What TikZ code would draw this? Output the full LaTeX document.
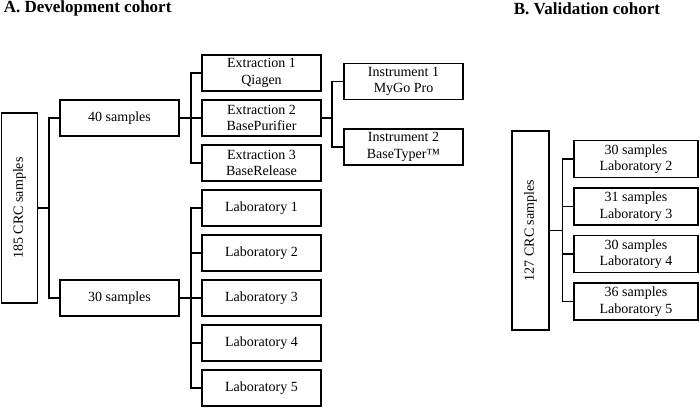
\documentclass[tikz,border=0pt]{standalone}
\usepackage{fontspec}
\setmainfont{Liberation Serif}
\usetikzlibrary{positioning}
\begin{document}
\begin{tikzpicture}[x=1pt, y=-1pt, line width=1.7pt,
    box/.style = {draw, align=center, minimum width=119pt, minimum height=36pt, inner sep=0pt, font=\fontsize{14}{16.5}\selectfont},
    side/.style = {box, rotate=90, minimum height=36pt},
    title/.style = {anchor=base west, inner sep=0pt, font=\fontsize{17}{19}\selectfont\bfseries}]
    \useasboundingbox (0,0) rectangle (700,407);
    \node[title] (ta) at (3,12.5) {A. Development cohort};
    \node[title] (tb) at (513,14.5) {B. Validation cohort};
    % development cohort
    \node[side, minimum width=190pt] (c185) at (19.5,208) {185 CRC samples};
    \node[box] (s40) at (119.5,118) {40 samples};
    \node[box] (s30) at (119.5,298) {30 samples};
    \begin{scope}[node distance=45pt]
        \node[box] (e1) at (261.5,73) {Extraction 1\\Qiagen};
        \node[box] (e2) [below of=e1] {Extraction 2\\BasePurifier};
        \node[box] (e3) [below of=e2] {Extraction 3\\BaseRelease};
        \node[box] (l1) at (261.5,208) {Laboratory 1};
        \node[box] (l2) [below of=l1] {Laboratory 2};
        \node[box] (l3) [below of=l2] {Laboratory 3};
        \node[box] (l4) [below of=l3] {Laboratory 4};
        \node[box] (l5) [below of=l4] {Laboratory 5};
    \end{scope}
    \node[box] (i1) at (403.5,81.5) {Instrument 1\\MyGo Pro};
    \node[box] (i2) at (403.5,147) {Instrument 2\\BaseTyper™};
    \coordinate (j1) at (49,208);
    \coordinate (j2) at (191,118);
    \coordinate (j3) at (332,118);
    \coordinate (j4) at (191,298);
    \draw (c185.south) -- (j1);
    \draw (j1) |- (s40.west);
    \draw (j1) |- (s30.west);
    \draw (s40.east) -- (j2);
    \foreach \n in {1,2,3}
        \draw (j2) |- (e\n.west);
    \draw (e2.east) -- (j3);
    \draw (j3) |- (i1.west);
    \draw (j3) |- (i2.west);
    \draw (s30.east) -- (j4);
    \foreach \n in {1,...,5}
        \draw (j4) |- (l\n.west);
    % validation cohort
    \node[side, minimum width=199pt, minimum height=37pt] (c127) at (530.5,230.5) {127 CRC samples};
    \begin{scope}[node distance=47.5pt]
        \node[box, minimum width=124pt, minimum height=37pt] (v1) at (636,159) {30 samples\\Laboratory 2};
        \node[box, minimum width=124pt, minimum height=37pt] (v2) [below of=v1] {31 samples\\Laboratory 3};
        \node[box, minimum width=124pt, minimum height=37pt] (v3) [below of=v2] {30 samples\\Laboratory 4};
        \node[box, minimum width=124pt, minimum height=37pt] (v4) [below of=v3] {36 samples\\Laboratory 5};
    \end{scope}
    \coordinate (j5) at (562.5,230.5);
    \draw (c127.south) -- (j5);
    \foreach \n in {1,...,4}
        \draw (j5) |- (v\n.west);
\end{tikzpicture}
\end{document}
